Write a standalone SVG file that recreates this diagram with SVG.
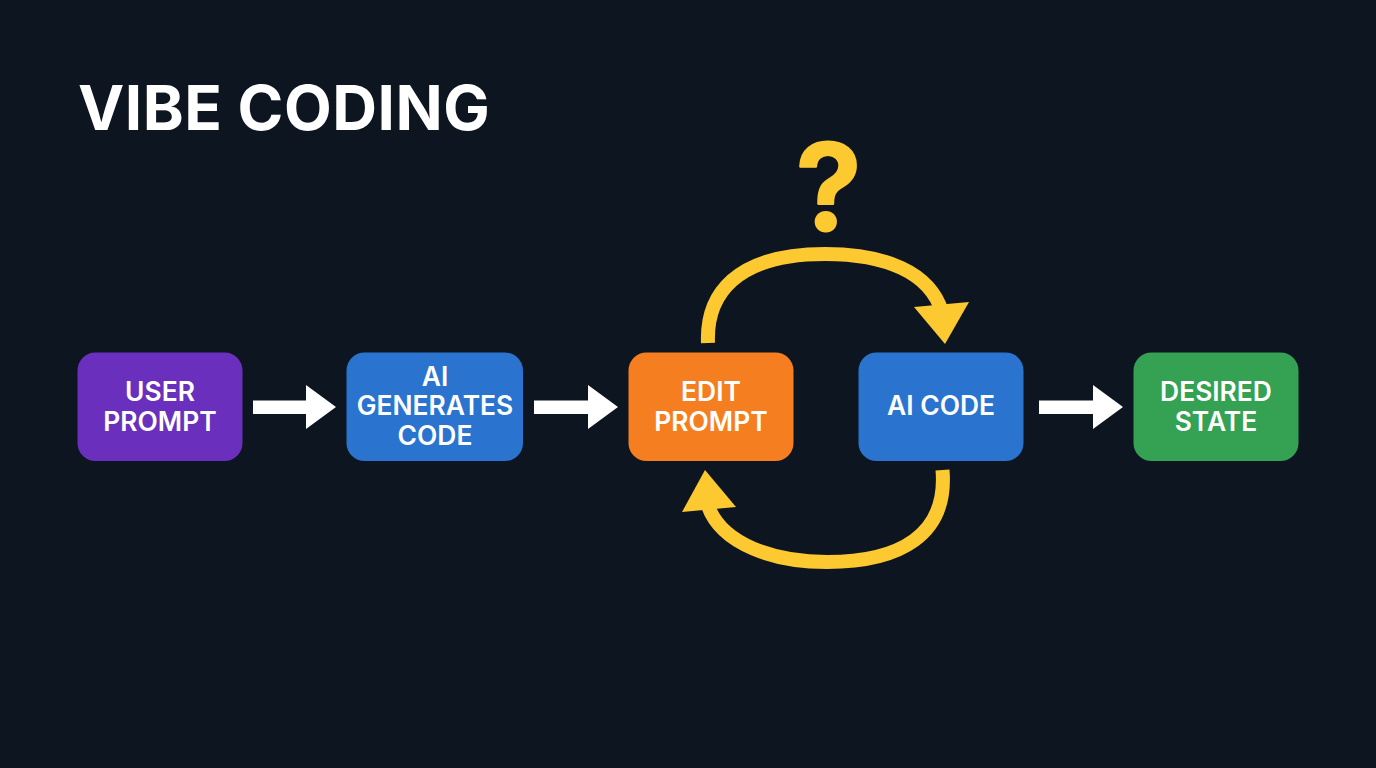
<svg xmlns="http://www.w3.org/2000/svg" width="1376" height="768" viewBox="0 0 1376 768">
<style>
.bg{fill:#0d1520}
.node{stroke:none}
.lbl{font-family:"Inter","Liberation Sans",sans-serif;font-weight:600;font-size:26.4px;fill:#fff;text-anchor:middle}
.w{fill:#fff;stroke:none}
.y{fill:none;stroke:#fcc931;stroke-width:14}
.yh{fill:#fcc931;stroke:none}
</style>
<rect class="bg" width="1376" height="768"/>
<text id="title" x="78" y="130" font-family="Inter,'Liberation Sans',sans-serif" font-weight="700" font-size="62" letter-spacing="0.5" fill="#fff">VIBE CODING</text>
<g id="connectors">
<polygon class="w" points="253,400.5 306,400.5 306,385 336,407 306,429 306,414 253,414"/>
<polygon class="w" points="534,400.5 588,400.5 588,385 618,407 588,429 588,414 534,414"/>
<polygon class="w" points="1039,400.5 1093,400.5 1093,385 1123,407 1093,429 1093,414 1039,414"/>
<path class="y" d="M708 343C706 295 735 254 825 254C885 254 930 272 942 312"/>
<polygon class="yh" points="914,307 969,302 945,344"/>
<path class="y" d="M942.5 470C948 535 900 562 827 562C775 562 722 545 708 506"/>
<polygon class="yh" points="682,512 705,470 736,507"/>
</g>
<g id="question"><text x="828.5" y="230" font-family="Inter,'Liberation Sans',sans-serif" font-weight="600" font-size="120" fill="#fcc931" stroke="#fcc931" stroke-width="3" stroke-linejoin="round" text-anchor="middle">?</text></g>
<g id="user-prompt"><rect class="node" x="77.5" y="352.5" width="165" height="108.5" rx="18" fill="#6a2fbc"/><text class="lbl" x="160" y="401">USER</text><text class="lbl" x="160" y="431">PROMPT</text></g>
<g id="ai-generates"><rect class="node" x="346.5" y="352.5" width="176.5" height="108.5" rx="18" fill="#2a74d0"/><text class="lbl" x="435" y="386">AI</text><text class="lbl" x="435" y="415">GENERATES</text><text class="lbl" x="435" y="445">CODE</text></g>
<g id="edit-prompt"><rect class="node" x="628.5" y="352.5" width="165" height="108.5" rx="18" fill="#f57f20"/><text class="lbl" x="711" y="401">EDIT</text><text class="lbl" x="711" y="431">PROMPT</text></g>
<g id="ai-code"><rect class="node" x="858.5" y="352.5" width="165" height="108.5" rx="18" fill="#2a74d0"/><text class="lbl" x="941" y="415">AI CODE</text></g>
<g id="desired-state"><rect class="node" x="1133.5" y="352.5" width="165" height="108.5" rx="18" fill="#34a153"/><text class="lbl" x="1216" y="401">DESIRED</text><text class="lbl" x="1216" y="431">STATE</text></g>
</svg>
